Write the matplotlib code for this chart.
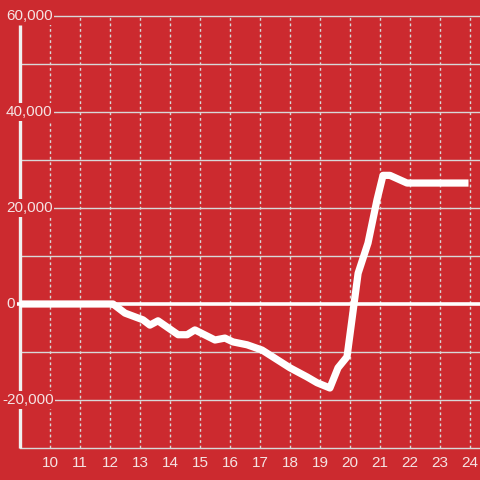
import matplotlib
matplotlib.use("Agg")
import matplotlib.pyplot as plt
import matplotlib.transforms as mtransforms
import numpy as np

# ---- data ----
hours = [9.0, 12.0, 12.1, 12.5, 13.1, 13.33, 13.6, 14.27, 14.57, 14.83, 15.5, 15.83,
         16.1, 16.57, 17.07, 18.0, 18.57, 18.9, 19.33, 19.6, 19.9, 20.27, 20.6, 20.9,
         21.1, 21.33, 21.9, 23.95]
values = [0, 0, 0, -1900, -3300, -4400, -3500, -6400, -6400, -5400, -7500, -7100,
          -7900, -8500, -9600, -13300, -15200, -16400, -17500, -13300, -11000, 6400,
          12700, 21700, 26800, 26800, 25200, 25200]
x_ticks = list(range(10, 25))
y_ticks = [-20000, 0, 20000, 40000, 60000]
y_minor = [-30000, -10000, 10000, 30000, 50000]

BG = "#CC2A2F"
TXT = "#F5E3E3"
GRID = "#D8D8D8"

plt.rcParams['font.family'] = ['Liberation Sans', 'DejaVu Sans']

fig = plt.figure(figsize=(4.8, 4.8), dpi=100, facecolor=BG)
ax = fig.add_axes([20/480, 32/480, 460/480, 432/480], facecolor=BG)
ax.set_xlim(9.0, 24.333)
ax.set_ylim(-30000, 60000)

for s in ax.spines.values():
    s.set_visible(False)

# horizontal grid lines
for v in y_ticks + y_minor:
    if v == 0:
        continue
    ax.axhline(v, color=GRID, lw=1, zorder=1, clip_on=False)
# vertical dotted grid lines
for xt in x_ticks:
    ax.axvline(xt, color=GRID, lw=1, ls=(0, (2, 2)), zorder=1)

# left axis line
ax.plot([0, 0], [0, 0.98], transform=ax.transAxes, color="#F0F0F0", lw=2.4,
        zorder=2, clip_on=False, solid_capstyle='butt')
# zero line
trans_zero = mtransforms.blended_transform_factory(fig.transFigure, ax.transData)
ax.plot([17/480, 1.0], [0, 0], transform=trans_zero, color="white", lw=2.6,
        zorder=3, clip_on=False, solid_capstyle='butt')

# series
ax.plot(hours, values, color="white", lw=5.2, zorder=5,
        solid_joinstyle='round', solid_capstyle='butt')

# x tick labels
ax.set_xticks(x_ticks)
ax.set_xticklabels([str(t) for t in x_ticks], color=TXT, fontsize=11)
ax.tick_params(axis='x', length=0, pad=6)
ax.set_yticks([])

# y tick labels drawn over the axis with background
for v in y_ticks:
    lab = "{:,}".format(v)
    xoff = 2/480 if v < 0 else 6/480
    ax.text(xoff, v, lab, transform=trans_zero, ha='left', va='center',
            color=TXT, fontsize=11, zorder=10, clip_on=False,
            bbox=dict(boxstyle='square,pad=0.1', fc=BG, ec='none'))

fig.savefig("out.png", dpi=100, facecolor=BG)
